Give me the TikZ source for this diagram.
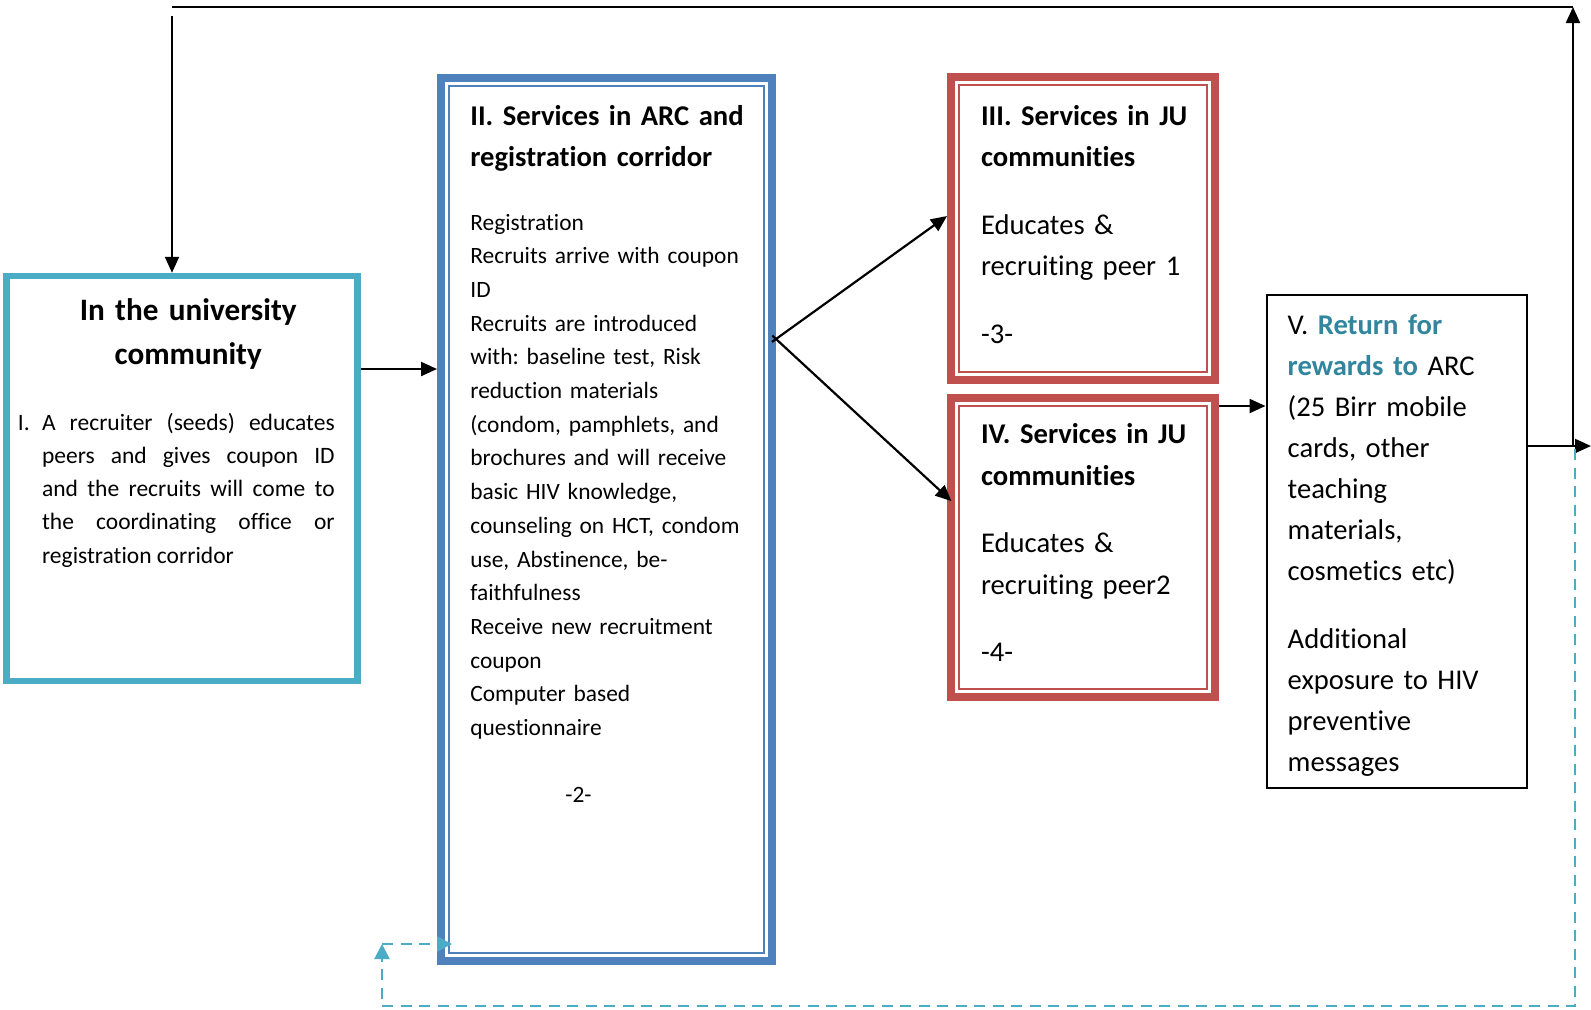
\documentclass[tikz,border=0pt]{standalone}
\usepackage{fontspec}
\setmainfont{Carlito}[Ligatures=NoCommon]
\usetikzlibrary{arrows.meta}
\definecolor{commblue}{HTML}{4BACC6}
\definecolor{arcblue}{HTML}{4F81BD}
\definecolor{jured}{HTML}{C0504D}
\definecolor{rewardteal}{HTML}{31859C}
\frenchspacing

\begin{document}
\begin{tikzpicture}[x=0.5pt, y=-0.5pt,
    arr/.style={line width=1.1pt, -{Triangle[length=8pt,width=7pt]}},
    dasharr/.style={commblue, line width=1.1pt, dash pattern=on 5.5pt off 3.75pt, -{Triangle[length=7.5pt,width=7.5pt]}},
    box/.style={draw, inner sep=0pt},
    txt/.style={inner sep=0pt, anchor=base west, align=left, text width=#1},
    txt/.default=150pt]
    \useasboundingbox (0,0) rectangle (1591,1009);

    % draw boxes
    \node[box, commblue, line width=3.25pt, minimum width=175.5pt, minimum height=202.5pt] (comm) at (182,478.5) {};
    \node[box, arcblue, line width=4pt, minimum width=165.5pt, minimum height=441.5pt] (arc) at (606.5,519.5) {};
    \draw[arcblue, line width=1pt] ([shift={(12,12)}]arc.north west) rectangle ([shift={(-12,-12)}]arc.south east);
    \foreach \n/\y/\h in {ju3/228.5/151.5pt, ju4/547.5/149.5pt} {
      \node[box, jured, line width=4pt, minimum width=132pt, minimum height=\h] (\n) at (1083,\y) {};
      \draw[jured, line width=1pt] ([shift={(12,12)}]\n.north west) rectangle ([shift={(-12,-12)}]\n.south east);
    }
    \node[box, line width=1pt, minimum width=130pt, minimum height=246.75pt] (ret) at (1396.5,541.25) {};

    % draw texts
    \node[txt=170pt, anchor=base, align=center, font=\fontsize{15.6pt}{22.15pt}\selectfont\bfseries] (commhead) at (188.2,320) {In the university\\community};
    \node[txt=146.3pt, align=justify, font=\fontsize{11.75pt}{16.65pt}\selectfont] (commtext) at (41.7,430)
      {\leavevmode\llap{I.\hspace{6.2pt}}A recruiter (seeds) educates\linebreak peers and gives coupon ID\linebreak and the recruits will come to\linebreak the coordinating office or\linebreak registration corridor};
    \node[txt, font=\fontsize{14.3pt}{20.85pt}\selectfont\bfseries] (archead) at (470,125) {II. Services in ARC and\\registration corridor};
    \node[txt, font=\fontsize{11.7pt}{16.85pt}\selectfont] (arctext) at (470,230)
      {Registration\\Recruits arrive with coupon\\ID\\Recruits are introduced\\with: baseline test, Risk\\reduction materials\\(condom, pamphlets, and\\brochures and will receive\\basic HIV knowledge,\\counseling on HCT, condom\\use, Abstinence, be-\\faithfulness\\Receive new recruitment\\coupon\\Computer based\\questionnaire\\[16.85pt]\hspace*{47.5pt}-2-};
    \node[txt=120pt, font=\fontsize{14.3pt}{20.8pt}\selectfont] (ju3text) at (980.7,125)
      {\textbf{III. Services in JU}\\\textbf{communities}\\[13pt]Educates \&\\recruiting peer 1\\[13pt]-3-};
    \node[txt=120pt, font=\fontsize{14.3pt}{20.8pt}\selectfont] (ju4text) at (980.7,443.5)
      {\textbf{IV. Services in JU}\\\textbf{communities}\\[13pt]Educates \&\\recruiting peer2\\[13pt]-4-};
    \node[txt=115pt, font=\fontsize{14.3pt}{20.55pt}\selectfont] (rettext) at (1287.3,334)
      {V. {\bfseries\color{rewardteal}Return for}\\{\bfseries\color{rewardteal}rewards to} ARC\\(25 Birr mobile\\cards, other\\teaching\\materials,\\cosmetics etc)\\[13.3pt]Additional\\exposure to HIV\\preventive\\messages};

    % draw arrows
    \draw[arr] (comm.east |- 0,369) -- (arc.west |- 0,369);
    \draw[arr, shorten <=-2.5pt] (arc.east |- 0,339) -- (ju3.west |- 0,216);
    \draw[arr, shorten <=-2.5pt, shorten >=-3pt] (arc.east |- 0,339) -- (ju4.west |- 0,497);
    \draw[arr] (ju4.east |- 0,406) -- (ret.west |- 0,406);
    \coordinate (retout) at (1591,446);
    \draw[arr] (ret.east |- retout) -- (retout);

    % draw return line
    \coordinate (upfoot) at (1573,446);
    \coordinate (uptop) at (1573,7);
    \coordinate (lefttop) at (172,7);
    \coordinate (leftdrop) at (172,16);
    \draw[arr] (upfoot) -- (uptop);
    \draw[line width=1.1pt] (uptop) -- (lefttop);
    \draw[arr] (leftdrop) -- (leftdrop |- comm.north);

    % draw dashed line
    \coordinate (dtop) at (1575,449);
    \coordinate (dbot) at (1575,1006);
    \coordinate (dleft) at (382,1006);
    \coordinate (dturn) at (382,944);
    \draw[dasharr] (dtop) -- (dbot) -- (dleft) -- (dturn);
    \draw[dasharr, shorten >=-7.5pt] (dturn) -- (arc.west |- dturn);
\end{tikzpicture}
\end{document}
